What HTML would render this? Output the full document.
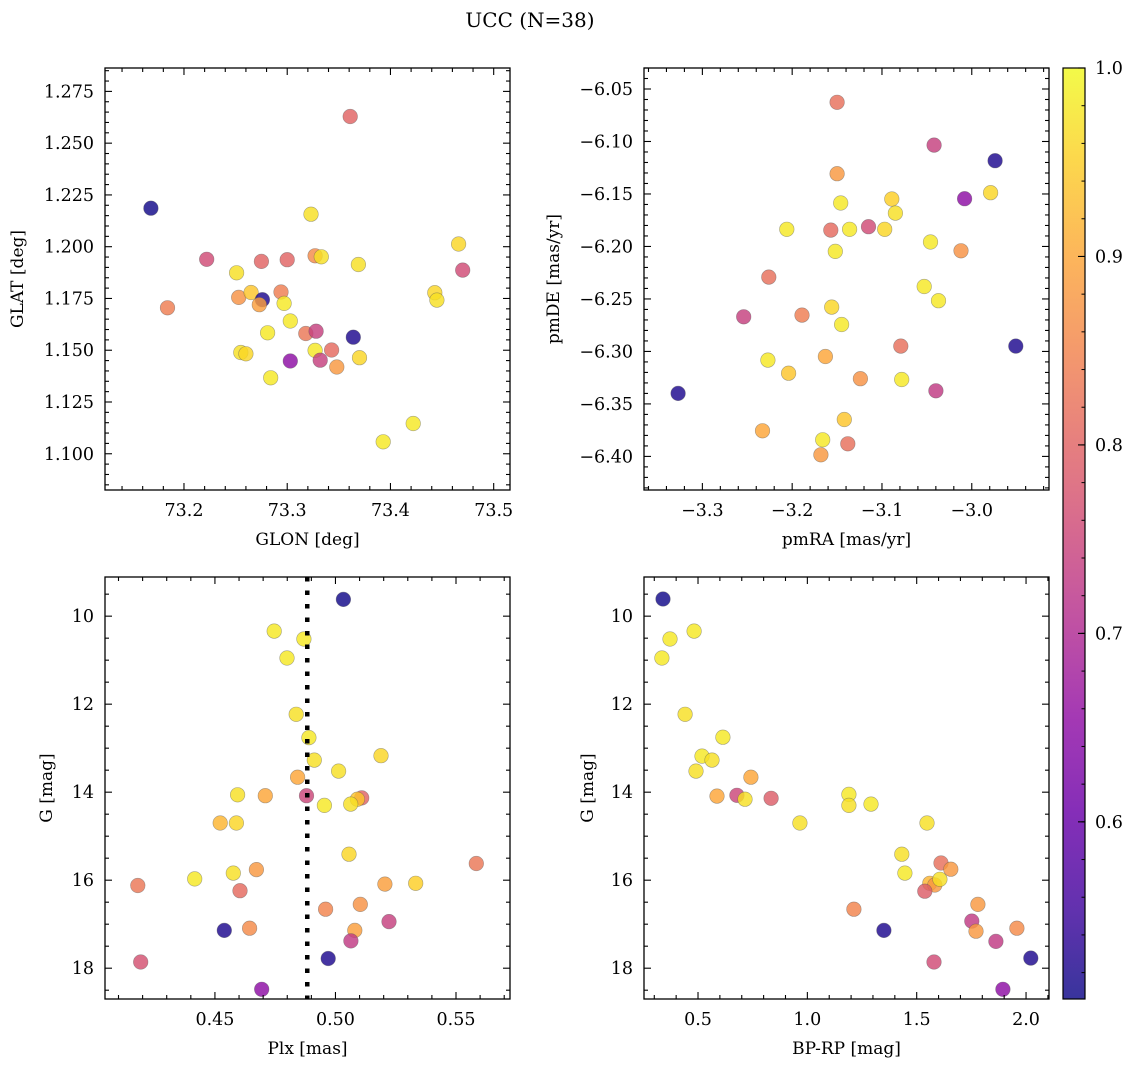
<!DOCTYPE html>
<html><head><meta charset="utf-8"><style>
html,body{margin:0;padding:0;background:#fff;}
svg{display:block;font-family:"DejaVu Serif","Liberation Serif",serif;}
</style></head><body>
<svg id="fig" width="1136" height="1067" viewBox="0 0 1136 1067" xmlns="http://www.w3.org/2000/svg">
<text x="530" y="27" font-size="20" text-anchor="middle">UCC (N=38)</text>
</svg>
<script>
// ---- data ----
const p1X=[73.168,73.361,73.222,73.184,73.251,73.275,73.300,73.323,73.327,73.333,73.369,73.466,73.470,73.443,73.445,73.253,73.265,73.276,73.273,73.294,73.297,73.303,73.281,73.318,73.328,73.364,73.255,73.260,73.303,73.327,73.332,73.343,73.348,73.370,73.284,73.422,73.393];
const p1Y=[1.2186,1.2629,1.1939,1.1705,1.1874,1.1929,1.1937,1.2157,1.1956,1.1951,1.1914,1.2013,1.1887,1.1778,1.1742,1.1755,1.1779,1.1744,1.1720,1.1781,1.1726,1.1641,1.1584,1.1581,1.1592,1.1563,1.1489,1.1483,1.1448,1.1499,1.1452,1.1501,1.1419,1.1464,1.1367,1.1146,1.1058];
const p1C=[.51,.80,.76,.84,.97,.80,.80,.97,.86,.97,.97,.96,.76,.96,.97,.87,.94,.52,.89,.84,.98,.98,.98,.83,.74,.52,.97,.96,.65,.98,.74,.81,.88,.96,.98,.98,.98];

const p2X=[-3.150,-3.042,-2.974,-3.150,-2.979,-3.008,-3.146,-3.089,-3.085,-3.206,-3.157,-3.136,-3.115,-3.097,-3.152,-3.046,-3.012,-3.226,-3.053,-3.037,-3.156,-3.189,-3.254,-3.145,-3.079,-2.951,-3.227,-3.163,-3.204,-3.124,-3.078,-3.040,-3.327,-3.142,-3.233,-3.166,-3.138,-3.168];
const p2Y=[-6.0627,-6.1034,-6.1183,-6.1307,-6.1488,-6.1545,-6.1586,-6.1548,-6.1682,-6.1837,-6.1844,-6.1837,-6.1812,-6.1837,-6.2047,-6.1958,-6.2041,-6.2292,-6.2381,-6.2517,-6.2578,-6.2654,-6.2670,-6.2743,-6.2949,-6.2949,-6.3083,-6.3048,-6.3207,-6.3260,-6.3267,-6.3375,-6.3400,-6.3648,-6.3756,-6.3842,-6.3880,-6.3985];
const p2C=[.82,.74,.52,.88,.96,.65,.98,.95,.97,.98,.81,.98,.76,.96,.98,.98,.87,.82,.98,.98,.96,.84,.74,.98,.82,.52,.98,.90,.94,.87,.98,.73,.52,.94,.90,.98,.82,.88];

const p3X=[.5033,.4746,.4869,.4799,.4837,.4890,.4912,.5189,.5013,.4843,.4594,.4709,.4880,.5109,.5091,.5063,.4954,.4522,.4589,.5056,.4672,.4576,.4416,.4180,.4604,.5205,.5333,.5584,.4959,.5103,.5222,.4539,.4644,.5080,.5064,.4970,.4192,.4694];
const p3Y=[9.62,10.34,10.52,10.95,12.23,12.76,13.27,13.17,13.52,13.66,14.06,14.08,14.08,14.13,14.16,14.27,14.30,14.70,14.70,15.41,15.76,15.84,15.97,16.12,16.24,16.09,16.07,15.62,16.66,16.55,16.94,17.14,17.09,17.14,17.38,17.78,17.86,18.48];
const p3C=[.51,.98,.98,.98,.97,.98,.97,.96,.97,.90,.97,.90,.75,.80,.94,.97,.98,.92,.96,.96,.88,.97,.98,.83,.81,.89,.95,.83,.85,.87,.74,.52,.86,.89,.73,.52,.77,.65];
const plxLine=0.4883;

const p4X=[.340,.482,.372,.335,.441,.614,.518,.564,.491,.742,.587,.678,.715,.834,1.190,1.190,1.291,.966,1.547,1.432,1.446,1.611,1.656,1.560,1.583,1.606,1.537,1.213,1.350,1.780,1.752,1.771,1.958,1.862,2.022,1.579,1.894];
const p4Y=[9.61,10.34,10.52,10.95,12.23,12.75,13.18,13.27,13.52,13.66,14.09,14.07,14.16,14.14,14.05,14.30,14.27,14.70,14.70,15.41,15.84,15.61,15.75,16.07,16.11,15.98,16.25,16.66,17.14,16.55,16.93,17.16,17.09,17.39,17.77,17.86,18.48];
const p4C=[.51,.98,.98,.98,.97,.98,.98,.97,.97,.90,.90,.75,.97,.79,.98,.97,.98,.97,.97,.97,.98,.82,.88,.92,.88,.97,.79,.85,.52,.88,.73,.88,.86,.73,.52,.76,.65];

const cbTicks=[0.6,0.7,0.8,0.9,1.0];
const vmin=0.506, vmax=1.0;

// ---- helpers ----
const NS="http://www.w3.org/2000/svg";
const svg=document.getElementById('fig');
function mk(tag,attrs,parent){const e=document.createElementNS(NS,tag);for(const k in attrs)e.setAttribute(k,attrs[k]);(parent||svg).appendChild(e);return e;}
const stops=[[13,8,135],[65,4,157],[106,0,168],[143,13,164],[177,42,144],[204,71,120],[225,100,98],[242,132,75],[252,166,54],[252,206,37],[240,249,33]];
function plasma(t){t=Math.max(0,Math.min(1,t));const f=t*10,i=Math.min(9,Math.floor(f)),r=f-i;const a=stops[i],b=stops[i+1];return 'rgb('+a.map((v,k)=>Math.round(v+(b[k]-v)*r)).join(',')+')';}
function cmap(v){return plasma((v-vmin)/(vmax-vmin));}
function fmt(v,d){const s=Math.abs(v).toFixed(d);return (v<-1e-9?'\u2212':'')+s;}
const TF=17.5, LF=17;

function panel(o){
  const {name,L,T,W,H,xr,yr,yInv,xMaj,xMin,yMaj,yMin,xd,yd,xlab,ylab,ylabX,X,Y,C}=o;
  const sx=v=>L+(v-xr[0])/(xr[1]-xr[0])*W;
  const sy=v=>yInv? T+(v-yr[0])/(yr[1]-yr[0])*H : T+H-(v-yr[0])/(yr[1]-yr[0])*H;
  const g=mk('g',{});
  
  
  const clip=mk('clipPath',{id:name+'-clip'},g);mk('rect',{x:L,y:T,width:W,height:H},clip);
  const pts=mk('g',{'clip-path':'url(#'+name+'-clip)'},g);
  
  
  for(let i=0;i<X.length;i++){
    const c=mk('circle',{cx:sx(X[i]).toFixed(1),cy:sy(Y[i]).toFixed(1),r:7.3,fill:cmap(C[i]),'fill-opacity':0.82,stroke:'#555','stroke-opacity':0.5,'stroke-width':0.6},pts);
    
    
  }
  if(o.vline!==undefined){
    const l=mk('line',{x1:sx(o.vline),x2:sx(o.vline),y1:T,y2:T+H,stroke:'#000','stroke-width':4.5,'stroke-dasharray':'4.5 9'},g);
    
    
  }
  const ax=mk('g',{stroke:'#000','stroke-width':1.1},g);
  
  
  const eps=1e-9;
  for(let v=Math.ceil(xr[0]/xMin-eps)*xMin; v<=xr[1]+eps; v+=xMin){
    const x=sx(v);const isMaj=Math.abs(v/xMaj-Math.round(v/xMaj))<1e-6;const len=isMaj?7:4;
    mk('line',{x1:x,x2:x,y1:T+H,y2:T+H-len},ax);mk('line',{x1:x,x2:x,y1:T,y2:T+len},ax);
    if(isMaj){const t=mk('text',{x:x,y:T+H+26,'font-size':TF,'text-anchor':'middle',stroke:'none',fill:'#000'},g);t.textContent=fmt(v,xd);
      
      }
  }
  for(let v=Math.ceil(yr[0]/yMin-eps)*yMin; v<=yr[1]+eps; v+=yMin){
    const y=sy(v);const isMaj=Math.abs(v/yMaj-Math.round(v/yMaj))<1e-6;const len=isMaj?7:4;
    mk('line',{x1:L,x2:L+len,y1:y,y2:y},ax);mk('line',{x1:L+W,x2:L+W-len,y1:y,y2:y},ax);
    if(isMaj){const t=mk('text',{x:L-11,y:y+6,'font-size':TF,'text-anchor':'end',stroke:'none',fill:'#000'},g);t.textContent=fmt(v,yd);
      
      }
  }
  mk('rect',{x:L,y:T,width:W,height:H,fill:'none',stroke:'#000','stroke-width':1.3},g);
  const xl=mk('text',{x:L+W/2,y:T+H+55,'font-size':LF,'text-anchor':'middle'},g);xl.textContent=xlab;
  
  
  const yc=T+H/2;
  const yl=mk('text',{x:ylabX,y:yc,'font-size':LF,'text-anchor':'middle',transform:'rotate(-90 '+ylabX+' '+yc+')'},g);yl.textContent=ylab;
  
  
}

panel({name:'glon-glat',L:105,T:68,W:405,H:422,xr:[73.1235,73.5158],yr:[1.0825,1.2863],xMaj:0.1,xMin:0.02,yMaj:0.025,yMin:0.005,xd:1,yd:3,xlab:'GLON [deg]',ylab:'GLAT [deg]',ylabX:23,X:p1X,Y:p1Y,C:p1C});
panel({name:'pmra-pmde',L:644,T:68,W:405,H:422,xr:[-3.365,-2.914],yr:[-6.432,-6.030],xMaj:0.1,xMin:0.02,yMaj:0.05,yMin:0.01,xd:1,yd:2,xlab:'pmRA [mas/yr]',ylab:'pmDE [mas/yr]',ylabX:559,X:p2X,Y:p2Y,C:p2C});
panel({name:'plx-g',L:105,T:577,W:405,H:422,xr:[0.4044,0.5724],yr:[9.11,18.70],yInv:true,xMaj:0.05,xMin:0.01,yMaj:2,yMin:0.5,xd:2,yd:0,xlab:'Plx [mas]',ylab:'G [mag]',ylabX:52,X:p3X,Y:p3Y,C:p3C,vline:plxLine});
panel({name:'color-g',L:644,T:577,W:405,H:422,xr:[0.253,2.105],yr:[9.11,18.70],yInv:true,xMaj:0.5,xMin:0.1,yMaj:2,yMin:0.5,xd:1,yd:0,xlab:'BP-RP [mag]',ylab:'G [mag]',ylabX:593,X:p4X,Y:p4Y,C:p4C});

// ---- colorbar ----
(function(){
  const L=1063,T=68,W=22,H=931;
  const g=mk('g',{});
  
  
  const defs=mk('defs',{},g);
  const lg=mk('linearGradient',{id:'cbg',x1:0,y1:1,x2:0,y2:0},defs);
  for(let i=0;i<=20;i++){mk('stop',{offset:(i/20),'stop-color':plasma(i/20)},lg);}
  mk('rect',{x:L,y:T,width:W,height:H,fill:'url(#cbg)','fill-opacity':0.82},g);
  mk('rect',{x:L,y:T,width:W,height:H,fill:'none',stroke:'#000','stroke-width':1.2},g);
  const sy=v=>T+H-(v-vmin)/(vmax-vmin)*H;
  for(let v=0.52;v<=1.0001;v+=0.02){const y=sy(v);mk('line',{x1:L+W,x2:L+W-3.5,y1:y,y2:y,stroke:'#000','stroke-width':1},g);}
  cbTicks.forEach(v=>{const y=sy(v);mk('line',{x1:L+W,x2:L+W-7,y1:y,y2:y,stroke:'#000','stroke-width':1.1},g);
    const t=mk('text',{x:L+W+10,y:y+6,'font-size':TF},g);t.textContent=v.toFixed(1);
    
    });
})();
</script>
</body></html>
